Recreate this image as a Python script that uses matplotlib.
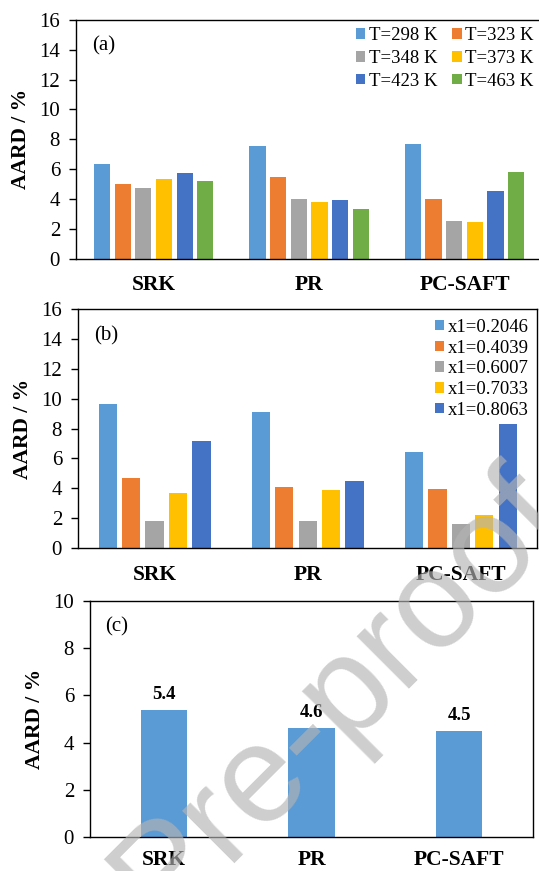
import matplotlib
matplotlib.use("Agg")
import matplotlib.pyplot as plt
import numpy as np

plt.rcParams["font.family"] = ["Liberation Serif", "DejaVu Serif"]

# equations of state on the x axis
models = ["SRK", "PR", "PC-SAFT"]

# (a) AARD by temperature
temps = ["T=298 K", "T=323 K", "T=348 K", "T=373 K", "T=423 K", "T=463 K"]
aard_t298 = [6.33, 7.54, 7.67]
aard_t323 = [4.99, 5.46, 3.98]
aard_t348 = [4.72, 3.96, 2.53]
aard_t373 = [5.32, 3.78, 2.42]
aard_t423 = [5.73, 3.91, 4.52]
aard_t463 = [5.23, 3.29, 5.82]

# (b) AARD by mole fraction
fracs = ["x1=0.2046", "x1=0.4039", "x1=0.6007", "x1=0.7033", "x1=0.8063"]
aard_x1 = [9.67, 9.13, 6.42]
aard_x2 = [4.69, 4.08, 3.95]
aard_x3 = [1.82, 1.80, 1.59]
aard_x4 = [3.68, 3.86, 2.24]
aard_x5 = [7.14, 4.49, 8.33]

# (c) overall AARD
aard_total = [5.37, 4.63, 4.49]

colors = ["#5B9BD5", "#ED7D31", "#A5A5A5", "#FFC000", "#4472C4", "#70AD47"]

fig = plt.figure(figsize=(5.39, 8.71), dpi=100)


def style_axes(ax, ymax, step, tag, xpad=12):
    ax.set_xlim(-0.5, 2.5)
    ax.set_ylim(0, ymax)
    ax.set_yticks(np.arange(0, ymax + 0.1, step))
    ax.set_xticks(range(len(models)))
    ax.set_xticklabels(models, fontsize=15.5, fontweight="bold")
    ax.tick_params(axis="x", length=0, pad=xpad)
    ax.tick_params(axis="y", direction="out", length=5, width=1, labelsize=15, pad=6.5)
    ax.set_ylabel("AARD / %", fontsize=15.5, fontweight="bold", labelpad=6)
    for s in ax.spines.values():
        s.set_linewidth(1.0)
        s.set_color("black")
    ax.text(0.035, 0.93, tag, transform=ax.transAxes, fontsize=15,
            ha="left", va="top")


# panel (a)
ax1 = fig.add_axes([0.141, 0.7032, 0.865, 0.2738])
series_a = [aard_t298, aard_t323, aard_t348, aard_t373, aard_t423, aard_t463]
x = np.arange(len(models))
bars_a = []
for i, vals in enumerate(series_a):
    b = ax1.bar(x + (i - 2.5) * 0.133, vals, width=0.104, color=colors[i],
                label=temps[i])
    bars_a.append(b)
style_axes(ax1, 16, 2, "(a)")
order = [0, 2, 4, 1, 3, 5]
ax1.legend([bars_a[k] for k in order], [temps[k] for k in order], ncol=2,
           loc="upper right", bbox_to_anchor=(0.99, 0.985), frameon=False,
           fontsize=13.5, handlelength=0.5, handleheight=0.5,
           handletextpad=0.2, columnspacing=0.8, labelspacing=0.3,
           borderaxespad=0, borderpad=0.2)

# panel (b)
ax2 = fig.add_axes([0.1447, 0.3708, 0.8525, 0.2744])
series_b = [aard_x1, aard_x2, aard_x3, aard_x4, aard_x5]
for i, vals in enumerate(series_b):
    ax2.bar(x + (i - 2) * 0.153, vals, width=0.119, color=colors[i],
            label=fracs[i])
style_axes(ax2, 16, 2, "(b)")
ax2.legend(loc="upper right", bbox_to_anchor=(0.99, 0.975), frameon=False,
           fontsize=13.5, handlelength=0.5, handleheight=0.5,
           handletextpad=0.2, labelspacing=0.2, borderaxespad=0,
           borderpad=0.2)

# panel (c)
ax3 = fig.add_axes([0.167, 0.039, 0.822, 0.271])
bars_c = ax3.bar(x, aard_total, width=0.314, color=colors[0])
for rect, v in zip(bars_c, aard_total):
    ax3.annotate(f"{v:.1f}", (rect.get_x() + rect.get_width() / 2, v),
                 xytext=(0, 8), textcoords="offset points", ha="center",
                 va="baseline", fontsize=13.5, fontweight="bold")
style_axes(ax3, 10, 2, "(c)", xpad=9)

# journal watermark
fig.text(0.63, 0.2, "Pre-proof", fontsize=100, family="Liberation Sans",
         color="#b4b4b4", alpha=0.65, rotation=45, ha="center", va="center",
         zorder=10)

fig.savefig("out.png", dpi=100)
